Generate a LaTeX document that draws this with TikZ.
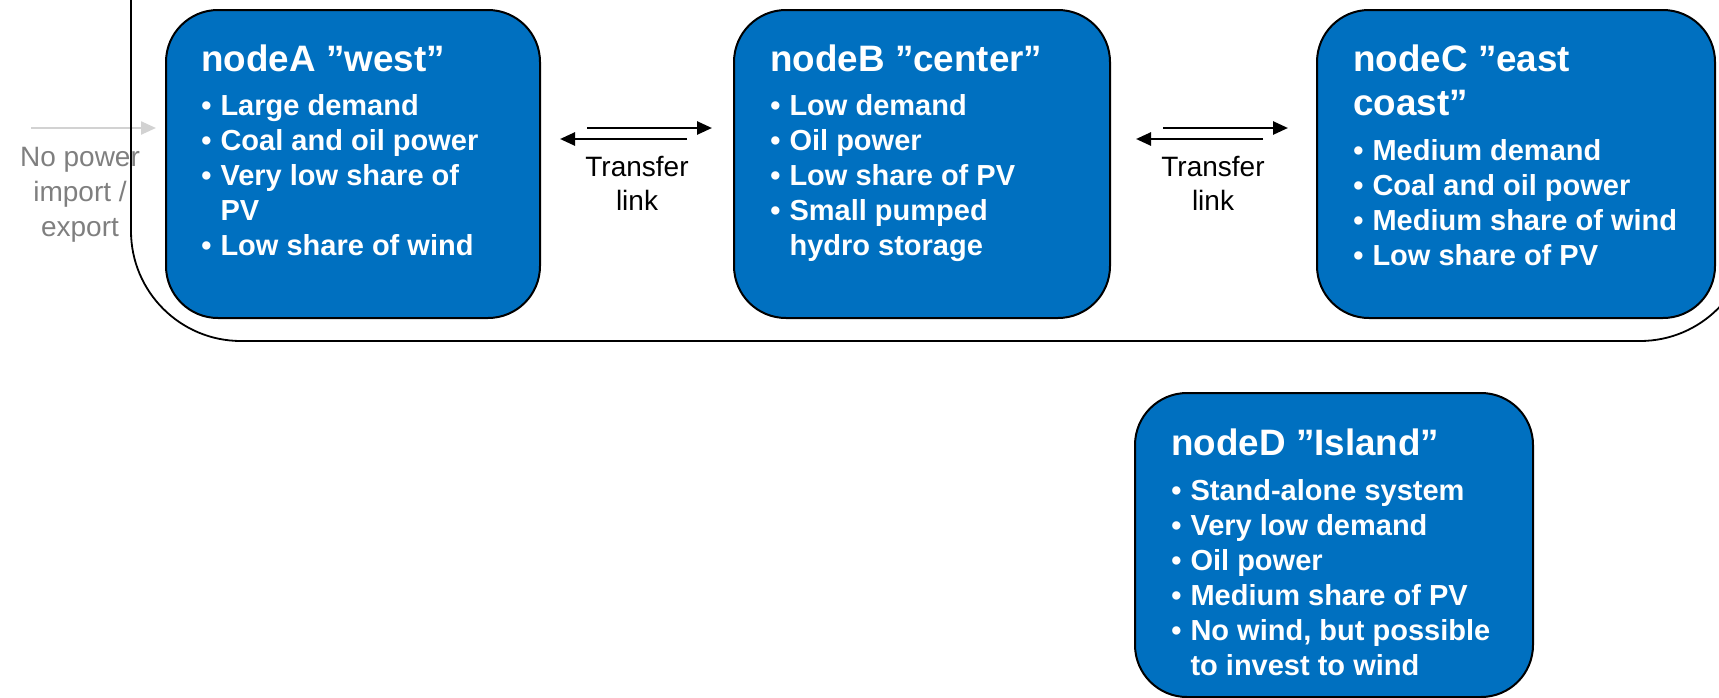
\documentclass[tikz,border=0pt]{standalone}
\usepackage{fontspec}
\setmainfont{Liberation Sans}
\usetikzlibrary{arrows.meta}
\definecolor{nodeblue}{RGB}{0,112,192}
\definecolor{lightarrow}{RGB}{210,210,210}
\definecolor{graytext}{RGB}{127,127,127}
\newcommand{\bitem}[1]{\makebox[0.66em][l]{•}#1}
\newcommand{\bcont}[1]{\hspace*{0.66em}#1}
\begin{document}
\begin{tikzpicture}[x=0.5pt,y=-0.5pt,
  box/.style={draw=black, line width=1pt, fill=nodeblue, rounded corners=26pt, inner sep=0pt},
  container/.style={draw=black, line width=0.9pt, rounded corners=55pt},
  titletext/.style={anchor=base west, inner sep=0pt, text=white, font=\bfseries\fontsize{18.4}{22}\selectfont},
  listtext/.style={anchor=base west, inner sep=0pt, text=white, font=\bfseries\fontsize{14.5}{17.5}\selectfont},
  linklabel/.style={anchor=base, inner sep=0pt, font=\fontsize{14}{17}\selectfont},
  graylabel/.style={anchor=base, inner sep=0pt, text=graytext, font=\fontsize{14}{17.5}\selectfont},
  link/.style={draw=black, line width=1.3pt, -{Triangle[length=7.5pt,width=6.5pt]}},
  grayarrow/.style={draw=lightarrow, line width=1.2pt, -{Triangle[length=7.5pt,width=6.5pt]}}
]
\useasboundingbox (0,0) rectangle (1719,697);
\clip (0,0) rectangle (1719,697);

% no import/export label and arrow
\node[graylabel] (np) at (80,166) {\begin{tabular}[t]{@{}c@{}}No power\\import /\\export\end{tabular}};
\coordinate (gs) at (31,128);
\coordinate (ge) at (156,128);
\draw[grayarrow] (gs) -- (ge);

% container
\draw[container] (131,-150) rectangle (1750,341);

% boxes
\node[box, minimum width=187pt, minimum height=154pt] (A) at (353,164) {};
\node[box, minimum width=188pt, minimum height=154pt] (B) at (922,164) {};
\node[box, minimum width=199pt, minimum height=154pt] (C) at (1516,164) {};
\node[box, minimum width=199pt, minimum height=152pt] (D) at (1334,545) {};

% texts A
\node[titletext] (tA) at (201,71) {nodeA ”west”};
\node[listtext] (lA) at (201,115) {\begin{tabular}[t]{@{}l@{}}\bitem{Large demand}\\\bitem{Coal and oil power}\\\bitem{Very low share of}\\\bcont{PV}\\\bitem{Low share of wind}\end{tabular}};

% texts B
\node[titletext] (tB) at (770,71) {nodeB ”center”};
\node[listtext] (lB) at (770,115) {\begin{tabular}[t]{@{}l@{}}\bitem{Low demand}\\\bitem{Oil power}\\\bitem{Low share of PV}\\\bitem{Small pumped}\\\bcont{hydro storage}\end{tabular}};

% texts C
\node[titletext] (tC) at (1353,71) {\begin{tabular}[t]{@{}l@{}}nodeC ”east\\coast”\end{tabular}};
\node[listtext] (lC) at (1353,160) {\begin{tabular}[t]{@{}l@{}}\bitem{Medium demand}\\\bitem{Coal and oil power}\\\bitem{Medium share of wind}\\\bitem{Low share of PV}\end{tabular}};

% texts D
\node[titletext] (tD) at (1171,455) {nodeD ”Island”};
\node[listtext] (lD) at (1171,500) {\begin{tabular}[t]{@{}l@{}}\bitem{Stand-alone system}\\\bitem{Very low demand}\\\bitem{Oil power}\\\bitem{Medium share of PV}\\\bitem{No wind, but possible}\\\bcont{to invest to wind}\end{tabular}};

% transfer links
\coordinate (ab1) at (587,128);
\coordinate (ab2) at (712,128);
\coordinate (ba1) at (687,139);
\coordinate (ba2) at (560,139);
\draw[link] (ab1) -- (ab2);
\draw[link] (ba1) -- (ba2);
\node[linklabel] (lab) at (637,176) {\begin{tabular}[t]{@{}c@{}}Transfer\\link\end{tabular}};

\coordinate (bc1) at (1163,128);
\coordinate (bc2) at (1288,128);
\coordinate (cb1) at (1263,139);
\coordinate (cb2) at (1136,139);
\draw[link] (bc1) -- (bc2);
\draw[link] (cb1) -- (cb2);
\node[linklabel] (lbc) at (1213,176) {\begin{tabular}[t]{@{}c@{}}Transfer\\link\end{tabular}};
\end{tikzpicture}
\end{document}
